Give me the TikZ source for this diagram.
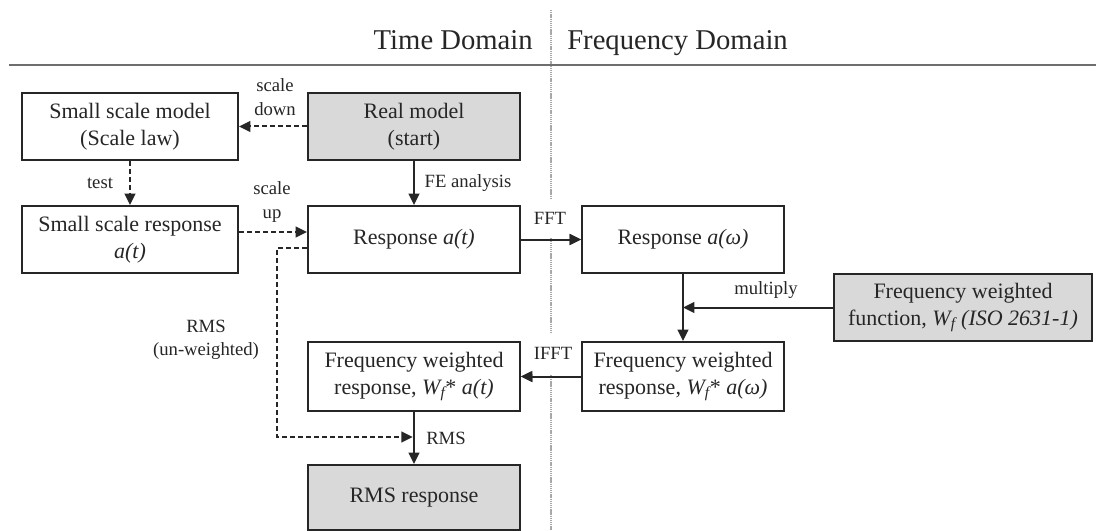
\documentclass[tikz,border=0pt]{standalone}
\usepackage{fontspec}
\setmainfont{Liberation Serif}
\usetikzlibrary{arrows.meta}

\definecolor{ink}{HTML}{262626}
\definecolor{shade}{HTML}{D9D9D9}
\definecolor{rulegrey}{HTML}{6E6E6E}
\definecolor{splitgrey}{HTML}{A8A8A8}

\begin{document}
\begin{tikzpicture}[x=0.75pt,y=-0.75pt,
  box/.style={draw=ink, line width=1.5pt, text=ink, align=center, inner sep=0pt,
              minimum height=50.25pt, font=\fontsize{16.5}{20}\selectfont},
  greybox/.style={box, fill=shade},
  lbl/.style={text=ink, align=center, inner sep=1pt, font=\fontsize{14}{17.5}\selectfont},
  head/.style={text=ink, inner sep=0pt, font=\fontsize{21.5}{24}\selectfont},
  link/.style={draw=ink, line width=1.5pt, -{Triangle[length=8.5pt,width=8pt]}},
  dlink/.style={link, dash pattern=on 3.5pt off 2.5pt},
]
\fill[white] (0,0) rectangle (1096,531);
\useasboundingbox (0,0) rectangle (1096,531);

% domain split and header rule
\draw[splitgrey, line width=1.5pt, dash pattern=on 1pt off 0.6pt] (551,10) -- (551,531);
\draw[rulegrey, line width=1.3pt] (9,65) -- (1096,65);
\node[head, anchor=base east] (td) at (533,50) {Time Domain};
\node[head, anchor=base west] (fd) at (567,50) {Frequency Domain};

% boxes
\node[box, minimum width=162pt] (ssm) at (130,126.5) {Small scale model\\(Scale law)};
\node[greybox, minimum width=159pt] (real) at (414,126.5) {Real model\\(start)};
\node[box, minimum width=162pt] (ssr) at (130,239.5) {Small scale response\\\textit{a(t)}};
\node[box, minimum width=159pt] (resp) at (414,239.5) {Response \textit{a(t)}};
\node[box, minimum width=151.5pt] (respw) at (683,239.5) {Response \textit{a(ω)}};
\node[greybox, minimum width=193.5pt] (fwf) at (963,307.5)
  {Frequency weighted\\function, \textit{W\textsubscript{f} (ISO 2631-1)}};
\node[box, minimum width=151.5pt, minimum height=51.75pt] (fwrw) at (683,376.5)
  {Frequency weighted\\response, \textit{W\textsubscript{f}}* \textit{a(ω)}};
\node[box, minimum width=159pt, minimum height=51.75pt] (fwrt) at (414,376.5)
  {Frequency weighted\\response, \textit{W\textsubscript{f}}* \textit{a(t)}};
\node[greybox, minimum width=159pt, minimum height=48.75pt] (rms) at (414,497.5) {RMS response};

% helper levels
\coordinate (upy) at (0,232);
\coordinate (uw1) at (277,248);
\coordinate (uw2) at (277,437);

% connectors
\draw[dlink] (real.west) -- (ssm.east);
\draw[dlink] (ssm.south) -- (ssr.north);
\draw[link] (real.south) -- (resp.north);
\draw[dlink] (ssr.east |- upy) -- (resp.west |- upy);
\draw[link] (resp.east) -- (respw.west);
\draw[link] (respw.south) -- (fwrw.north);
\draw[link] (fwf.west) -- (respw.south |- fwf.west);
\draw[link] (fwrw.west) -- (fwrt.east);
\draw[link] (fwrt.south) -- (rms.north);
\draw[dlink, shorten >=1pt] (resp.west |- uw1) -- (uw1) -- (uw2) -- (fwrt.south |- uw2);

% labels
\node[lbl] (lsd) at (275,97) {scale\\down};
\node[lbl] (ltest) at (100,183) {test};
\node[lbl] (lfe) at (468,183) {FE analysis};
\node[lbl] (lsu) at (272,202) {scale\\up};
\node[lbl, fill=white, anchor=south, minimum height=29pt, inner xsep=2pt] (lfft) at (550,238) {FFT};
\node[lbl] (lmul) at (766,290) {multiply};
\node[lbl, fill=white, anchor=south, minimum height=30pt, inner xsep=2pt] (lifft) at (553,374) {IFFT};
\node[lbl] (luw) at (206,340) {RMS\\(un-weighted)};
\node[lbl] (lrms) at (446,438) {RMS};

% redraw arrow shafts over the label backgrounds
\draw[link] (resp.east) -- (respw.west);
\draw[link] (fwrw.west) -- (fwrt.east);
\end{tikzpicture}
\end{document}
